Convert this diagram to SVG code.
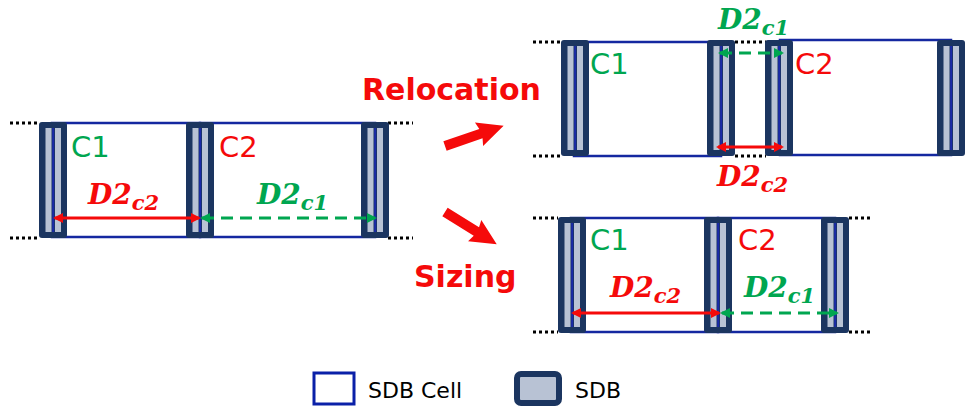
<svg xmlns="http://www.w3.org/2000/svg" xmlns:xlink="http://www.w3.org/1999/xlink" width="967" height="408" viewBox="0 0 967 408">
<style>
.cell{fill:#fff;stroke:#1428a0;stroke-width:2.5}
.dot{stroke:#000;stroke-width:3;stroke-dasharray:3 3;fill:none}
.lbl{font-family:"DejaVu Sans",sans-serif;font-size:29px}
.d2{font-family:"DejaVu Serif",serif;font-weight:bold;font-style:italic;font-size:28px}
.sub{font-size:21px}
.red{fill:#f50a0a}
.grn{fill:#00a650}
.ra{stroke:#f50a0a;stroke-width:3;fill:none}
.ga{stroke:#00a650;stroke-width:3;stroke-dasharray:12 7;fill:none}
.big{font-family:"DejaVu Sans",sans-serif;font-weight:bold;font-size:30px;fill:#f50a0a}
.leg{font-family:"DejaVu Sans",sans-serif;font-size:22px;fill:#000}
</style>
<defs>
<g id="sdb">
<rect width="28" height="116" rx="3" fill="#1b3560"/>
<rect x="6.5" y="6" width="6" height="104" fill="#b8c2d4"/>
<rect x="16" y="6" width="6" height="104" fill="#b8c2d4"/>
<rect x="13.2" y="6" width="2" height="104" fill="#1a2aa8"/>
</g>
<marker id="mr" viewBox="0 0 10 10" refX="8" refY="5" markerWidth="10" markerHeight="10" markerUnits="userSpaceOnUse" orient="auto-start-reverse"><path d="M0,0 L10,5 L0,10 z" fill="#f50a0a"/></marker>
<marker id="mg" viewBox="0 0 10 10" refX="8" refY="5" markerWidth="10" markerHeight="10" markerUnits="userSpaceOnUse" orient="auto-start-reverse"><path d="M0,0 L10,5 L0,10 z" fill="#00a650"/></marker>
</defs>

<!-- Left diagram -->
<g id="left">
<path class="dot" d="M10,123 H39 M388,123 H413 M10,238 H39 M388,238 H413"/>
<rect id="L-C1" class="cell" x="52" y="123" width="148" height="114"/>
<rect id="L-C2" class="cell" x="200" y="123" width="175" height="114"/>
<use xlink:href="#sdb" x="39" y="122"/>
<use xlink:href="#sdb" x="186" y="122"/>
<use xlink:href="#sdb" x="361" y="122"/>
<text class="lbl grn" x="71" y="157">C1</text>
<text class="lbl red" x="219" y="157">C2</text>
<text class="d2 red" x="88" y="204">D2<tspan class="sub" dy="6">c2</tspan></text>
<text class="d2 grn" x="257" y="204">D2<tspan class="sub" dy="6">c1</tspan></text>
</g>

<!-- Top-right (relocation) -->
<g id="reloc">
<path class="dot" d="M533,42 H561 M735,42 H766 M533,156 H561 M735,156 H766"/>
<rect id="R-C1" class="cell" x="574" y="42" width="147" height="114"/>
<rect id="R-C2" class="cell" x="780" y="40" width="171" height="115"/>
<use xlink:href="#sdb" x="561" y="40"/>
<use xlink:href="#sdb" x="707" y="40"/>
<use xlink:href="#sdb" x="765" y="40"/>
<use xlink:href="#sdb" x="937" y="40"/>
<text class="lbl grn" x="590" y="74">C1</text>
<text class="lbl red" x="795" y="74">C2</text>
<text class="d2 grn" x="718" y="29">D2<tspan class="sub" dy="6">c1</tspan></text>
<text class="d2 red" x="717" y="186">D2<tspan class="sub" dy="6">c2</tspan></text>
</g>

<!-- Bottom-right (sizing) -->
<g id="sizing">
<path class="dot" d="M533,218 H558 M849,218 H870 M533,332 H558 M849,332 H870"/>
<rect id="S-C1" class="cell" x="571" y="218" width="147" height="114"/>
<rect id="S-C2" class="cell" x="718" y="218" width="117" height="114"/>
<use xlink:href="#sdb" x="558" y="217"/>
<use xlink:href="#sdb" x="704" y="217"/>
<use xlink:href="#sdb" x="821" y="217"/>
<text class="lbl grn" x="590" y="250">C1</text>
<text class="lbl red" x="738" y="250">C2</text>
<text class="d2 red" x="610" y="297">D2<tspan class="sub" dy="6">c2</tspan></text>
<text class="d2 grn" x="744" y="297">D2<tspan class="sub" dy="6">c1</tspan></text>
</g>

<!-- Connectors -->
<g id="connectors">
<line class="ra" x1="55" y1="218" x2="199" y2="218" marker-start="url(#mr)" marker-end="url(#mr)"/>
<line class="ga" x1="202" y1="218" x2="375" y2="218" marker-start="url(#mg)" marker-end="url(#mg)"/>
<line class="ga" x1="720" y1="53" x2="782" y2="53" marker-start="url(#mg)" marker-end="url(#mg)"/>
<line class="ra" x1="718" y1="147" x2="782" y2="147" marker-start="url(#mr)" marker-end="url(#mr)"/>
<line class="ra" x1="573" y1="313" x2="719" y2="313" marker-start="url(#mr)" marker-end="url(#mr)"/>
<line class="ga" x1="722" y1="313" x2="837" y2="313" marker-start="url(#mg)" marker-end="url(#mg)"/>
<polygon fill="#f50a0a" transform="translate(445,146) rotate(-19)" points="0,-5 38,-5 36,-12.5 62,0 36,12.5 38,5 0,5"/>
<polygon fill="#f50a0a" transform="translate(445,212) rotate(32)" points="0,-5 37,-5 35,-12.5 61,0 35,12.5 37,5 0,5"/>
</g>

<g id="labels">
<text class="big" x="362" y="100">Relocation</text>
<text class="big" x="414" y="287">Sizing</text>
</g>

<!-- Legend -->
<g id="legend-cell">
<rect x="314" y="373" width="40" height="31" fill="#fff" stroke="#0a20a8" stroke-width="3"/>
<text class="leg" x="368" y="398">SDB Cell</text>
</g>
<g id="legend-sdb">
<rect x="517" y="374" width="42" height="29" rx="4" fill="#b8c2d4" stroke="#1b3560" stroke-width="6"/>
<text class="leg" x="575" y="398">SDB</text>
</g>
</svg>
